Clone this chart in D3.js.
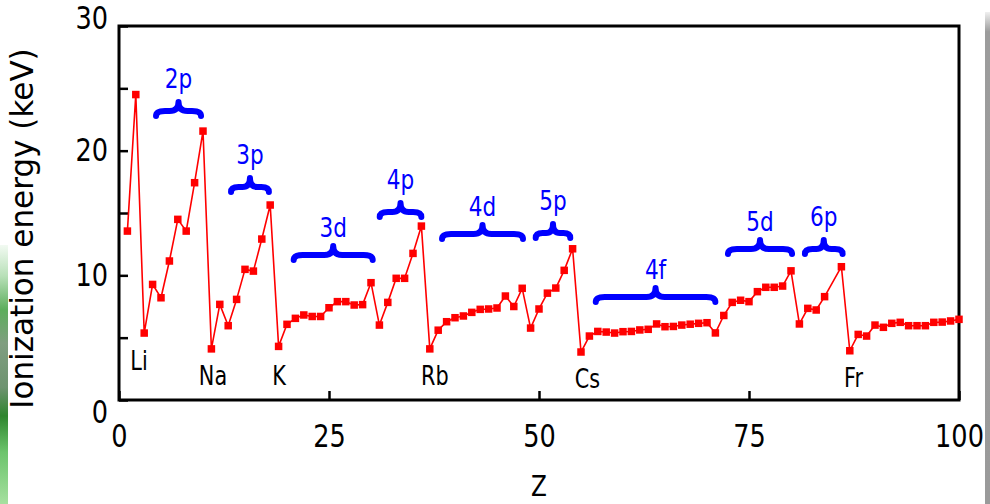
<!DOCTYPE html>
<html>
<head>
<meta charset="utf-8">
<script src="https://cdnjs.cloudflare.com/ajax/libs/d3/7.8.5/d3.min.js"></script>
<style>
  body { margin: 0; background: #fff; }
  svg { display: block; }
  text { font-family: "DejaVu Sans", Verdana, sans-serif; }
</style>
</head>
<body>
<div id="chart"></div>
<script>
// atomic number (At, Z=85, has no point in the plot)
var zValues = [1,2,3,4,5,6,7,8,9,10,
  11,12,13,14,15,16,17,18,19,20,
  21,22,23,24,25,26,27,28,29,30,
  31,32,33,34,35,36,37,38,39,40,
  41,42,43,44,45,46,47,48,49,50,
  51,52,53,54,55,56,57,58,59,60,
  61,62,63,64,65,66,67,68,69,70,
  71,72,73,74,75,76,77,78,79,80,
  81,82,83,84,86,87,88,89,90,
  91,92,93,94,95,96,97,98,99,100];
var energies = [13.55,24.5,5.37,9.27,8.2,11.15,14.49,13.55,17.43,21.57,
  4.1,7.67,5.96,8.07,10.48,10.34,12.91,15.64,4.3,6.07,
  6.55,6.82,6.7,6.7,7.4,7.89,7.89,7.62,7.65,9.41,
  6.01,7.83,9.76,9.76,11.76,13.95,4.1,5.6,6.28,6.6,
  6.74,7.03,7.27,7.3,7.38,8.34,7.5,8.96,5.77,7.3,
  8.57,8.98,10.4,12.13,3.85,5.13,5.5,5.45,5.37,5.48,
  5.5,5.62,5.67,6.1,5.88,5.9,6.01,6.08,6.15,6.2,
  5.38,6.78,7.83,8.0,7.89,8.69,9.04,9.04,9.14,10.36,
  6.1,7.35,7.22,8.29,10.69,3.95,5.26,5.13,6.01,
  5.83,6.15,6.23,5.96,5.96,5.96,6.23,6.25,6.34,6.47];

// subshell braces: Z span and the energy level of the brace top
var shellLabels = ["2p", "3p", "3d", "4p", "4d", "5p", "4f", "5d", "6p"];
var shellStart = [4.05, 12.98, 20.44, 30.68, 38.1, 49.25, 56.4, 72.14, 81.3];
var shellEnd = [10.12, 18.2, 30.56, 36.35, 48.45, 54.08, 71.35, 80.48, 86.5];
var shellTop = [24.14, 18.04, 12.59, 16.04, 14.27, 14.35, 9.22, 13.07, 13.07];

// alkali metal labels
var elementNames = ["Li", "Na", "K", "Rb", "Cs", "Fr"];
var elementZ = [2.38, 11.19, 19.05, 37.6, 55.77, 87.44];
var elementE = [2.4, 1.2, 1.2, 1.2, 0.96, 1.04];

var xTicks = [0, 25, 50, 75, 100];
var yTicks = [0, 5, 10, 15, 20, 25, 30];
var yLabelled = [0, 10, 20, 30];

var width = 990, height = 504;
var margin = {top: 26, right: 31, bottom: 104, left: 119};
var squeeze = 0.8;

var svg = d3.select("#chart").append("svg")
  .attr("width", width)
  .attr("height", height);

// bits of the slide behind the chart
var defs = svg.append("defs");
var green = defs.append("linearGradient").attr("id", "green")
  .attr("x1", 0).attr("y1", 0).attr("x2", 0).attr("y2", 1);
[[0, "#f2faf2"], [0.12, "#b8e0b8"], [0.25, "#5cae5c"], [0.38, "#809e80"],
 [0.55, "#6e9370"], [0.66, "#2e862e"], [0.8, "#6cc46c"], [1, "#a6e0a0"]].forEach(function(s) {
  green.append("stop").attr("offset", s[0]).attr("stop-color", s[1]);
});
var grey = defs.append("linearGradient").attr("id", "grey")
  .attr("x1", 0).attr("y1", 0).attr("x2", 0).attr("y2", 1);
grey.append("stop").attr("offset", 0).attr("stop-color", "#f0f0f0");
grey.append("stop").attr("offset", 0.04).attr("stop-color", "#9c9c9c");
grey.append("stop").attr("offset", 1).attr("stop-color", "#9a9a9a");

svg.append("rect").attr("x", 0).attr("y", 245).attr("width", 8).attr("height", 259)
  .attr("fill", "url(#green)");
svg.append("rect").attr("x", 985).attr("y", 12).attr("width", 5).attr("height", 492)
  .attr("fill", "url(#grey)");

var x = d3.scaleLinear().domain([0, 100]).range([margin.left, width - margin.right]);
var y = d3.scaleLinear().domain([0, 30]).range([height - margin.bottom, margin.top]);

// frame
svg.append("rect")
  .attr("x", x(0)).attr("y", y(30))
  .attr("width", x(100) - x(0)).attr("height", y(0) - y(30))
  .attr("fill", "none").attr("stroke", "#000").attr("stroke-width", 3);

var xAxis = svg.append("g")
  .attr("transform", "translate(0," + y(0) + ")")
  .call(d3.axisBottom(x).tickValues(xTicks).tickSize(-9).tickPadding(24));
xAxis.select(".domain").remove();
xAxis.selectAll("line").attr("stroke", "#000").attr("stroke-width", 2.5);
xAxis.selectAll("text")
  .attr("fill", "#000")
  .style("font-size", "32px")
  .attr("transform", "scale(" + squeeze + ",1)");

var yAxis = svg.append("g")
  .attr("transform", "translate(" + x(0) + ",0)")
  .call(d3.axisLeft(y).tickValues(yTicks).tickSize(-9)
    .tickFormat(function(d) { return yLabelled.indexOf(d) >= 0 ? d : ""; }));
yAxis.select(".domain").remove();
yAxis.selectAll("line").attr("stroke", "#000").attr("stroke-width", 2.5);
yAxis.selectAll("text")
  .attr("x", 0)
  .attr("fill", "#000")
  .style("font-size", "32px")
  .attr("transform", function(d) {
    var dy = d === 30 ? -8 : (d === 0 ? 12 : 0);
    return "translate(-11," + dy + ") scale(" + squeeze + ",1)";
  });

// axis titles
svg.append("text")
  .attr("transform", "translate(33," + ((47 + 410) / 2) + ") rotate(-90) scale(0.97,1)")
  .attr("text-anchor", "middle")
  .style("font-size", "32px")
  .attr("fill", "#000")
  .text("Ionization energy (keV)");

svg.append("text")
  .attr("transform", "translate(" + x(50) + ",496) scale(" + squeeze + ",1)")
  .attr("text-anchor", "middle")
  .style("font-size", "29px")
  .attr("fill", "#000")
  .text("Z");

// data
var points = zValues.map(function(z, i) { return {z: z, e: energies[i]}; });

var line = d3.line()
  .x(function(d) { return x(d.z); })
  .y(function(d) { return y(d.e); });

svg.append("path")
  .datum(points)
  .attr("fill", "none")
  .attr("stroke", "#ff0000")
  .attr("stroke-width", 1.6)
  .attr("stroke-linejoin", "round")
  .attr("d", line);

var ms = 7.5;
svg.selectAll(".pt")
  .data(points)
  .enter().append("rect")
  .attr("class", "pt")
  .attr("x", function(d) { return x(d.z) - ms / 2; })
  .attr("y", function(d) { return y(d.e) - ms / 2; })
  .attr("width", ms)
  .attr("height", ms)
  .attr("fill", "#ff0000");

// element labels
elementNames.forEach(function(name, i) {
  svg.append("text")
    .attr("transform", "translate(" + x(elementZ[i]) + "," + y(elementE[i]) + ") scale(" + squeeze + ",1)")
    .attr("text-anchor", "middle")
    .style("font-size", "26px")
    .attr("fill", "#000")
    .text(name);
});

// curly braces over the subshells
function bracePath(x0, x1, top) {
  var peak = top + 3, bar = top + 12, tip = top + 17;
  var xc = (x0 + x1) / 2;
  var r = Math.min(9, (x1 - x0) / 5);
  return "M" + x0 + "," + tip +
    "Q" + x0 + "," + bar + " " + (x0 + r) + "," + bar +
    "L" + (xc - r) + "," + bar +
    "Q" + xc + "," + bar + " " + xc + "," + peak +
    "Q" + xc + "," + bar + " " + (xc + r) + "," + bar +
    "L" + (x1 - r) + "," + bar +
    "Q" + x1 + "," + bar + " " + x1 + "," + tip;
}

shellLabels.forEach(function(lab, i) {
  var x0 = x(shellStart[i]) + 3, x1 = x(shellEnd[i]) - 3, top = y(shellTop[i]);
  svg.append("path")
    .attr("d", bracePath(x0, x1, top))
    .attr("fill", "none")
    .attr("stroke", "#0000ff")
    .attr("stroke-width", 6)
    .attr("stroke-linecap", "round")
    .attr("stroke-linejoin", "round");
  var off = lab.indexOf("p") >= 0 ? 11 : 6;
  svg.append("text")
    .attr("transform", "translate(" + ((x0 + x1) / 2) + "," + (top - off) + ") scale(" + squeeze + ",1)")
    .attr("text-anchor", "middle")
    .style("font-size", "27px")
    .attr("fill", "#0000ff")
    .text(lab);
});
</script>
</body>
</html>
